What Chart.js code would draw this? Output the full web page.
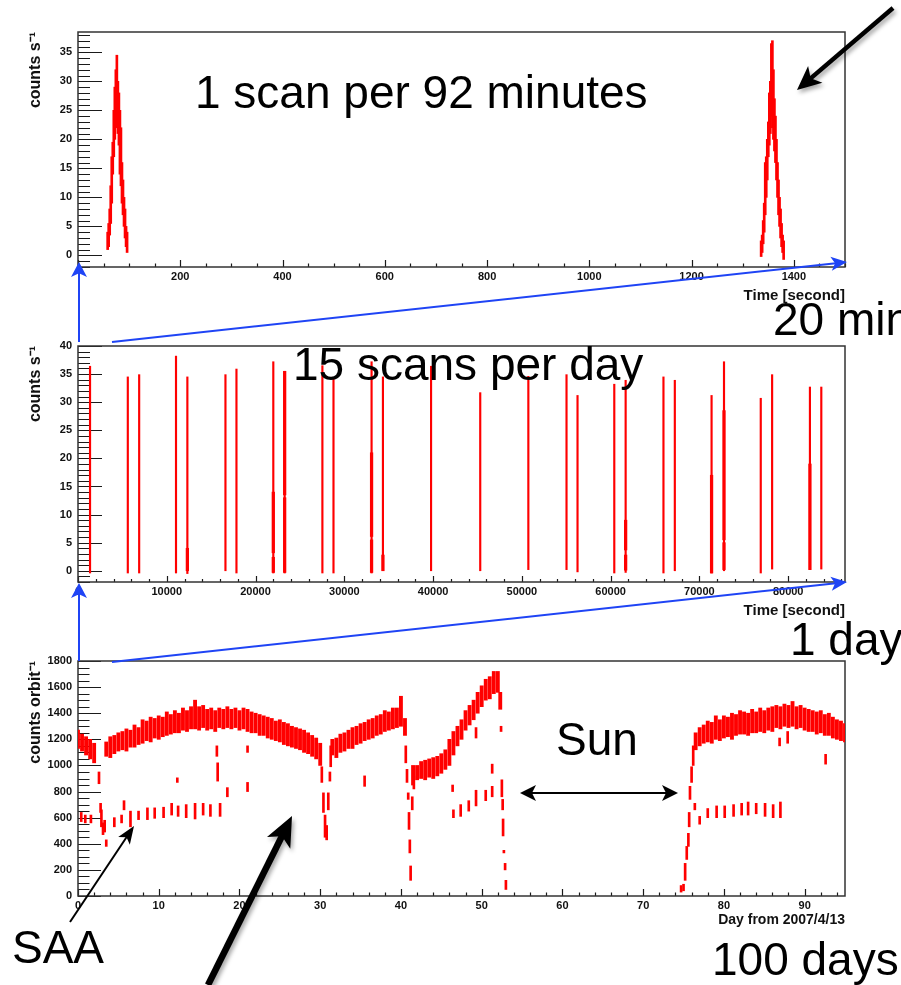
<!DOCTYPE html>
<html>
<head>
<meta charset="utf-8">
<script src="https://cdn.jsdelivr.net/npm/chart.js@4.4.0/dist/chart.umd.min.js"></script>
<style>
  html, body { margin: 0; padding: 0; background: #fff; }
  #page { position: relative; width: 901px; height: 985px; overflow: hidden; background: #fff; }
  #page canvas { position: absolute; left: 0; }
  #overlay { position: absolute; left: 0; top: 0; }
</style>
</head>
<body>
<div id="page">
  <canvas id="scanChart" width="901" height="310" style="top:0px"></canvas>
  <canvas id="dayChart" width="901" height="315" style="top:310px"></canvas>
  <canvas id="seasonChart" width="901" height="310" style="top:625px"></canvas>
  <svg id="overlay" width="901" height="985" font-family="'Liberation Sans', Arial, sans-serif">
    <defs>
      <filter id="shade" x="-30%" y="-30%" width="160%" height="160%">
        <feDropShadow dx="2" dy="3" stdDeviation="2" flood-color="#000" flood-opacity="0.35"/>
      </filter>
    </defs>
    <g font-size="46" fill="#000">
      <text x="195" y="108">1 scan per 92 minutes</text>
      <text x="293" y="380">15 scans per day</text>
      <text x="773" y="335">20 min</text>
      <text x="790" y="655">1 day</text>
      <text x="556" y="755">Sun</text>
      <text x="12" y="963">SAA</text>
      <text x="712" y="975">100 days</text>
    </g>
  </svg>
</div>
<script>
// ---- top panel: two scans, count rate with error bars (lo/hi) ----
const scanTime = [58, 60, 62, 64, 66, 68, 70, 72, 74, 76, 78, 80, 82, 84, 86, 88, 90, 92, 94, 96,
  1336, 1338, 1340, 1342, 1344, 1346, 1348, 1350, 1352, 1354, 1356, 1358, 1360, 1362, 1364, 1366, 1368, 1370, 1372, 1374, 1376, 1378, 1380];
const scanLo = [1, 1.5, 3.5, 5.5, 9, 14, 17, 20, 22, 23, 21, 19, 14, 12, 9, 7, 5, 3, 1.5, 0.5,
  -0.2, 0.5, 2, 4, 7, 10, 13, 17, 19, 21, 24, 22, 20, 18, 16, 13, 10, 7, 5, 3, 1.5, 0.5, -0.7];
const scanHi = [4, 5.5, 8, 12, 17, 19.5, 25, 29, 32, 34.5, 30, 28, 25, 22, 16, 13, 10, 8, 5, 4,
  2.5, 3.5, 6, 9, 16, 17, 20, 23, 28, 30, 36.5, 37, 32, 27, 24, 20, 16, 13, 10, 8, 5.5, 3.5, 2.5];
const scanXTicks = [200, 400, 600, 800, 1000, 1200, 1400];
const scanYTicks = [0, 5, 10, 15, 20, 25, 30, 35];

// ---- middle panel: one day of scans ----
const dayScanT = [1356, 5610, 6890, 11040, 12320, 16610, 17850, 22000, 23280, 27530, 28780, 33070, 34350, 39770,
  45310, 50730, 55030, 56270, 60410, 61690, 65950, 67230, 71370, 72770, 76910, 78190, 82450, 83730];
const dayScanTop = [36.4, 34.5, 34.9, 38.2, 34.5, 34.9, 35.9, 37.2, 35.5, 36.5, 34.2, 37.2, 34.5, 36.4,
  31.7, 34.6, 34.9, 31.2, 33.2, 33.9, 34.5, 33.9, 31.2, 37.2, 30.7, 34.9, 32.7, 32.7];
const dayScanBottom = [-0.4, -0.4, -0.4, -0.4, -0.5, 0, -0.4, -0.4, -0.4, -0.4, -0.4, -0.4, 0.1, 0,
  0, 0.2, 0.2, -0.2, -0.4, -0.3, -0.4, 0, -0.4, 0, -0.4, 0.3, 0.2, 0.3];
// stretches of a scan where the error bars pile up into a thicker stroke
const denseT = [12320, 22000, 22000, 23280, 23280, 33070, 33070, 34350, 61690, 61690, 71370, 72770, 72770, 82450];
const denseLo = [0, -0.3, 3.2, -0.3, 13.5, -0.3, 6.1, 0, 3.7, 0.1, -0.4, 5.5, 0.2, 0.2];
const denseHi = [4, 2.4, 14, 13, 35.5, 5.5, 21, 2.8, 9, 2.8, 17, 28.5, 5, 19];
const dayXTicks = [0, 10000, 20000, 30000, 40000, 50000, 60000, 70000, 80000];
const dayYTicks = [0, 5, 10, 15, 20, 25, 30, 35, 40];

// ---- bottom panel: counts per orbit over ~95 days ----
const bandDay = [0, 0.5, 1, 1.5, 2, 3.5, 4, 4.5, 5, 5.5,
  6, 6.5, 7, 7.5, 8, 8.5, 9, 9.5, 10, 10.5,
  11, 11.5, 12, 12.5, 13, 13.5, 14, 14.5, 15, 15.5,
  16, 16.5, 17, 17.5, 18, 18.5, 19, 19.5, 20, 20.5,
  21, 21.5, 22, 22.5, 23, 23.5, 24, 24.5, 25, 25.5,
  26, 26.5, 27, 27.5, 28, 28.5, 29, 29.5, 30, 31.5,
  32, 32.5, 33, 33.5, 34, 34.5, 35, 35.5, 36, 36.5,
  37, 37.5, 38, 38.5, 39, 39.5, 40, 40.5, 41.5, 42,
  42.5, 43, 43.5, 44, 44.5, 45, 45.5, 46, 46.5, 47,
  47.5, 48, 48.5, 49, 49.5, 50, 50.5, 51, 51.5, 52,
  52.3, 76.5, 77, 77.5, 78, 78.5, 79, 79.5, 80, 80.5,
  81, 81.5, 82, 82.5, 83, 83.5, 84, 84.5, 85, 85.5,
  86, 86.5, 87, 87.5, 88, 88.5, 89, 89.5, 90, 90.5,
  91, 91.5, 92, 92.5, 93, 93.5, 94, 94.5, 95];
const bandLo = [1130, 1110, 1080, 1050, 1020, 1070, 1060, 1090, 1110, 1120,
  1110, 1140, 1140, 1160, 1170, 1190, 1180, 1210, 1200, 1220,
  1230, 1240, 1250, 1250, 1270, 1260, 1280, 1280, 1270, 1290,
  1270, 1280, 1260, 1290, 1280, 1290, 1280, 1290, 1270, 1280,
  1260, 1250, 1250, 1230, 1230, 1210, 1200, 1190, 1180, 1160,
  1150, 1140, 1130, 1120, 1100, 1090, 1070, 1050, 1000, 1080,
  1060, 1100, 1110, 1130, 1130, 1160, 1170, 1190, 1200, 1210,
  1230, 1240, 1260, 1270, 1280, 1290, 1300, 1230, 850, 890,
  900, 890, 910, 900, 920, 940, 970, 1000, 1080, 1150,
  1200, 1270, 1310, 1350, 1400, 1450, 1500, 1510, 1550, 1560,
  1430, 1120, 1150, 1170, 1180, 1170, 1200, 1190, 1210, 1220,
  1200, 1230, 1240, 1240, 1230, 1250, 1250, 1260, 1250, 1270,
  1260, 1290, 1280, 1300, 1290, 1300, 1280, 1290, 1270, 1260,
  1260, 1240, 1250, 1230, 1230, 1210, 1200, 1190, 1180];
const bandHi = [1270, 1240, 1220, 1200, 1170, 1180, 1220, 1230, 1250, 1260,
  1280, 1270, 1310, 1290, 1350, 1340, 1370, 1360, 1380, 1370,
  1410, 1390, 1420, 1400, 1440, 1420, 1450, 1500, 1450, 1460,
  1430, 1440, 1420, 1440, 1430, 1450, 1430, 1440, 1420, 1440,
  1430, 1410, 1400, 1390, 1380, 1370, 1360, 1340, 1350, 1330,
  1320, 1300, 1290, 1280, 1270, 1250, 1230, 1210, 1170, 1200,
  1210, 1240, 1250, 1270, 1290, 1300, 1320, 1330, 1350, 1360,
  1380, 1390, 1420, 1410, 1440, 1440, 1530, 1360, 1000, 1000,
  1030, 1040, 1050, 1060, 1070, 1090, 1120, 1200, 1260, 1300,
  1350, 1420, 1460, 1500, 1560, 1610, 1660, 1680, 1720, 1720,
  1560, 1250, 1290, 1310, 1340, 1330, 1380, 1350, 1380, 1370,
  1400, 1390, 1420, 1410, 1400, 1430, 1410, 1440, 1420, 1440,
  1450, 1460, 1450, 1470, 1460, 1490, 1450, 1460, 1440, 1430,
  1420, 1410, 1420, 1390, 1400, 1370, 1350, 1340, 1320];
// isolated orbits: SAA passages, drops at the gaps, stray points
const spotDay = [2.6, 2.8, 2.9, 3.1, 3.3, 3.5,
  30.2, 30.4, 30.6, 30.8, 31.0, 31.2, 31.3,
  40.6, 40.75, 40.9, 41.0, 41.1, 41.2, 41.4, 41.6,
  52.4, 52.5, 52.6, 52.65, 52.75, 52.9, 53.0,
  74.7, 75.0, 75.2, 75.4, 75.6, 75.7, 75.8, 76.0, 76.2,
  0.4, 0.9, 1.6, 4.5, 5.4, 5.7, 6.5, 7.5, 8.6, 9.5, 10.6, 11.6, 12.4, 13.4, 14.5, 15.5, 16.4, 17.6,
  46.5, 47.4, 48.4, 49.3, 50.5, 51.3,
  76.4, 77.0, 78.0, 79.1, 80.1, 81.2, 82.2, 83.0, 84.0, 85.1, 86.1, 87.0,
  12.3, 17.2, 17.3, 18.5, 21.0, 21.0, 35.5, 46.4, 49.3, 51.3, 86.9, 87.9, 92.6];
const spotLo = [860, 640, 530, 470, 490, 380,
  870, 640, 450, 430, 660, 880, 990,
  1020, 870, 740, 510, 330, 120, 660, 820,
  1260, 760, 660, 460, 330, 200, 50,
  30, 40, 120, 280, 380, 530, 740, 870, 1000,
  570, 560, 560, 530, 560, 660, 530, 585, 585, 595, 600, 620, 610, 600, 590, 620, 610, 610,
  600, 610, 650, 690, 730, 760,
  660, 550, 600, 600, 600, 610, 620, 620, 630, 610, 600, 600,
  870, 1070, 880, 760, 1100, 800, 840, 800, 1210, 940, 1150, 1170, 1010];
const spotHi = [950, 710, 660, 560, 580, 430,
  990, 790, 620, 540, 790, 950, 1150,
  1150, 970, 790, 640, 430, 230, 760, 920,
  1300, 890, 740, 590, 350, 250, 120,
  80, 90, 250, 380, 480, 640, 840, 990, 1150,
  640, 620, 620, 600, 620, 730, 650, 650, 675, 675, 680, 710, 690, 700, 710, 710, 700, 710,
  660, 700, 730, 810, 810, 840,
  710, 610, 670, 690, 690, 700, 710, 720, 710, 710, 700, 720,
  905, 1150, 1020, 830, 1150, 870, 920, 850, 1290, 1010, 1210, 1260, 1085];
const seasonXTicks = [0, 10, 20, 30, 40, 50, 60, 70, 80, 90];
const seasonYTicks = [0, 200, 400, 600, 800, 1000, 1200, 1400, 1600, 1800];

const RED = '#ff0000';
const tickFont = { family: "'Liberation Sans', Arial, sans-serif", size: 11, weight: 'bold' };

// ROOT-style frame with ticks pointing into the plot
const rootFrame = {
  id: 'rootFrame',
  beforeDatasetsDraw(chart, args, o) {
    const { ctx, chartArea: a, scales: { x, y } } = chart;
    const isMajor = (v, step) => Math.abs(v / step - Math.round(v / step)) < 1e-6;
    ctx.save();
    ctx.strokeStyle = '#1a1a1a';
    ctx.lineWidth = 1.2;
    ctx.beginPath();
    for (let i = Math.ceil(x.min / o.xMinor); i * o.xMinor <= x.max; i++) {
      const v = i * o.xMinor, px = Math.round(x.getPixelForValue(v)) + 0.5;
      ctx.moveTo(px, a.bottom);
      ctx.lineTo(px, a.bottom - (isMajor(v, o.xMajor) ? o.xLen : o.xLen / 2));
    }
    for (let i = Math.ceil(y.min / o.yMinor); i * o.yMinor <= y.max; i++) {
      const v = i * o.yMinor, py = Math.round(y.getPixelForValue(v)) + 0.5;
      ctx.moveTo(a.left, py);
      ctx.lineTo(a.left + (isMajor(v, o.yMajor) ? o.yLen : o.yLen / 2), py);
    }
    ctx.stroke();
    ctx.lineWidth = 1.5;
    ctx.strokeStyle = '#333';
    ctx.strokeRect(a.left, a.top, a.right - a.left, a.bottom - a.top);
    ctx.restore();
  }
};

function segments(xs, lo, hi) {
  return xs.map((v, i) => ({ x: v, y: [lo[i], hi[i]] }));
}

function makeChart(id, c) {
  return new Chart(document.getElementById(id), {
    type: 'bar',
    data: { datasets: c.datasets },
    options: {
      responsive: false,
      animation: false,
      layout: { padding: { left: 0, right: 56, top: c.top, bottom: 0 } },
      plugins: { legend: { display: false }, tooltip: { enabled: false }, rootFrame: c.frame },
      scales: {
        x: {
          type: 'linear', offset: false, bounds: 'data', min: c.xMin, max: c.xMax,
          grid: { display: false, drawTicks: false }, border: { display: false },
          afterBuildTicks: s => { s.ticks = c.xTicks.map(v => ({ value: v })); },
          afterFit: s => { s.height = c.xHeight; },
          ticks: { autoSkip: false, maxRotation: 0, padding: 3, color: '#111', font: tickFont,
            callback: v => String(v) },
          title: { display: true, text: c.xTitle, align: 'end', color: '#111',
            font: { family: "'Liberation Sans', Arial, sans-serif", size: c.xTitleSize, weight: 'bold' },
            padding: { top: 0, bottom: c.xTitlePad } }
        },
        y: {
          type: 'linear', bounds: 'data', min: c.yMin, max: c.yMax,
          grid: { display: false, drawTicks: false }, border: { display: false },
          afterBuildTicks: s => { s.ticks = c.yTicks.map(v => ({ value: v })); },
          afterFit: s => { s.width = 78; },
          ticks: { autoSkip: false, padding: 6, color: '#111', font: tickFont,
            callback: v => String(v) },
          title: { display: true, text: c.yTitle, align: 'end', color: '#111',
            font: { family: "'Liberation Sans', Arial, sans-serif", size: 16, weight: 'bold' },
            padding: { top: 26, bottom: 0 } }
        }
      }
    },
    plugins: [rootFrame]
  });
}

makeChart('scanChart', {
  top: 32, xHeight: 43, xMin: 0, xMax: 1500, yMin: -2, yMax: 38.5,
  xTicks: scanXTicks, yTicks: scanYTicks,
  xTitle: 'Time [second]', xTitleSize: 15, xTitlePad: 5, yTitle: 'counts s\u207B\u00B9',
  frame: { xMajor: 200, xMinor: 50, xLen: 7, yMajor: 5, yMinor: 1, yLen: 24 },
  datasets: [{ data: segments(scanTime, scanLo, scanHi), backgroundColor: RED, barThickness: 2, grouped: false }]
});

makeChart('dayChart', {
  top: 36, xHeight: 43, xMin: 0, xMax: 86400, yMin: -2, yMax: 40,
  xTicks: dayXTicks, yTicks: dayYTicks,
  xTitle: 'Time [second]', xTitleSize: 15, xTitlePad: 5, yTitle: 'counts s\u207B\u00B9',
  frame: { xMajor: 10000, xMinor: 2000, xLen: 6, yMajor: 5, yMinor: 1, yLen: 24 },
  datasets: [
    { data: segments(dayScanT, dayScanBottom, dayScanTop), backgroundColor: RED, barThickness: 1.5, grouped: false },
    { data: segments(denseT, denseLo, denseHi), backgroundColor: RED, barThickness: 2.6, grouped: false }
  ]
});

makeChart('seasonChart', {
  top: 36, xHeight: 39, xMin: 0, xMax: 95, yMin: 0, yMax: 1800,
  xTicks: seasonXTicks, yTicks: seasonYTicks,
  xTitle: 'Day from 2007/4/13', xTitleSize: 14, xTitlePad: 6, yTitle: 'counts orbit\u207B\u00B9',
  frame: { xMajor: 10, xMinor: 2, xLen: 7, yMajor: 200, yMinor: 50, yLen: 23 },
  datasets: [
    { data: segments(bandDay, bandLo, bandHi), backgroundColor: RED, barThickness: 3.2, grouped: false },
    { data: segments(spotDay, spotLo, spotHi), backgroundColor: RED, barThickness: 2, grouped: false }
  ]
});

// ---- annotation arrows and connector lines ----
const NS = 'http://www.w3.org/2000/svg';
const overlay = document.getElementById('overlay');
function el(parent, tag, attrs) {
  const e = document.createElementNS(NS, tag);
  for (const k in attrs) e.setAttribute(k, attrs[k]);
  parent.appendChild(e);
  return e;
}
function arrow(x1, y1, x2, y2, { color = '#000', width = 2, head = 16, half = 7, both = false, shadow = false } = {}) {
  const g = el(overlay, 'g', shadow ? { filter: 'url(#shade)' } : {});
  const L = Math.hypot(x2 - x1, y2 - y1), ux = (x2 - x1) / L, uy = (y2 - y1) / L;
  const sx = both ? x1 + ux * head * 0.7 : x1, sy = both ? y1 + uy * head * 0.7 : y1;
  el(g, 'line', { x1: sx, y1: sy, x2: x2 - ux * head * 0.7, y2: y2 - uy * head * 0.7,
    stroke: color, 'stroke-width': width });
  const tip = (tx, ty, dx, dy) => {
    const bx = tx - dx * head, by = ty - dy * head;
    const nx = tx - dx * head * 0.75, ny = ty - dy * head * 0.75;
    el(g, 'polygon', { fill: color,
      points: `${tx},${ty} ${bx - dy * half},${by + dx * half} ${nx},${ny} ${bx + dy * half},${by - dx * half}` });
  };
  tip(x2, y2, ux, uy);
  if (both) tip(x1, y1, -ux, -uy);
}
function rule(x1, y1, x2, y2, color, width, shadow) {
  el(overlay, 'line', Object.assign({ x1, y1, x2, y2, stroke: color, 'stroke-width': width },
    shadow ? { filter: 'url(#shade)' } : {}));
}

const BLUE = '#1f44f5';
arrow(79, 342, 79, 262, { color: BLUE, width: 2, head: 15, half: 8 });
arrow(112, 342, 847, 262, { color: BLUE, width: 2, head: 16, half: 7 });
arrow(79, 661, 79, 583, { color: BLUE, width: 2, head: 15, half: 8 });
arrow(112, 662, 847, 582, { color: BLUE, width: 2, head: 16, half: 7 });
rule(848, 487, 901, 487, BLUE, 2.5, true);
rule(848, 492, 901, 492, BLUE, 2.5, true);
rule(853, 772, 901, 772, BLUE, 2.5, true);
rule(853, 777, 901, 777, BLUE, 2.5, true);

arrow(893, 8, 797, 90, { width: 4.5, head: 24, half: 11, shadow: true });
arrow(520, 793, 678, 793, { width: 2, head: 16, half: 8, both: true });
arrow(70, 922, 134, 826, { width: 2, head: 18, half: 7 });
arrow(208, 985, 292, 816, { width: 6.5, head: 30, half: 13, shadow: true });
</script>
</body>
</html>
